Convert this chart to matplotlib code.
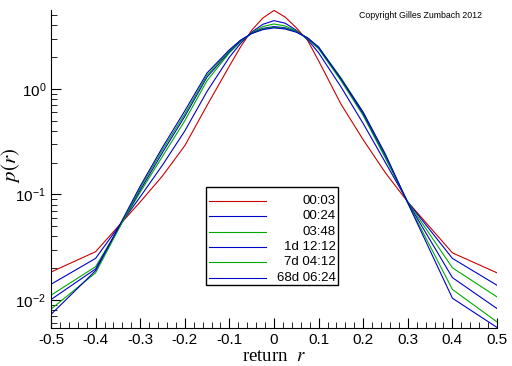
import numpy as np
import matplotlib.pyplot as plt
from matplotlib.ticker import FixedLocator, NullFormatter
from matplotlib.patches import Rectangle

plt.rcParams["mathtext.fontset"] = "stix"

# return grid
r = [-0.5, -0.4, -0.3, -0.25, -0.2, -0.15, -0.1, -0.075, -0.05, -0.025, 0.0,
     0.025, 0.05, 0.075, 0.1, 0.15, 0.2, 0.25, 0.3, 0.4, 0.5]

# estimated densities, one list per time horizon
p_0003 = [0.0184, 0.0287, 0.085, 0.15, 0.29, 0.70, 1.65, 2.5, 3.6, 4.7, 5.55,
          4.8, 3.8, 2.9, 1.85, 0.72, 0.33, 0.16, 0.085, 0.028, 0.0181]
p_0024 = [0.0141, 0.0248, 0.095, 0.19, 0.40, 0.95, 2.0, 2.7, 3.45, 4.1, 4.44,
          4.2, 3.6, 2.95, 2.2, 1.05, 0.47, 0.20, 0.085, 0.0248, 0.0138]
p_0348 = [0.0111, 0.0207, 0.105, 0.23, 0.50, 1.20, 2.2, 2.8, 3.4, 3.9, 4.13,
          3.95, 3.55, 3.0, 2.4, 1.20, 0.56, 0.22, 0.085, 0.0202, 0.0107]
p_1d = [0.0101, 0.0197, 0.110, 0.25, 0.55, 1.30, 2.25, 2.85, 3.38, 3.75, 3.90,
        3.8, 3.5, 3.05, 2.45, 1.25, 0.58, 0.23, 0.084, 0.0163, 0.0083]
p_7d = [0.0082, 0.0181, 0.115, 0.265, 0.58, 1.35, 2.3, 2.88, 3.36, 3.7, 3.85,
        3.75, 3.48, 3.05, 2.48, 1.28, 0.60, 0.235, 0.083, 0.0126, 0.0062]
p_68d = [0.0073, 0.0190, 0.120, 0.28, 0.62, 1.42, 2.35, 2.9, 3.35, 3.65, 3.79,
         3.7, 3.45, 3.05, 2.5, 1.25, 0.60, 0.24, 0.083, 0.0104, 0.0055]

labels = ["00:03", "00:24", "03:48", "1d 12:12", "7d 04:12", "68d 06:24"]
colors = ["#cc0000", "#0000cc", "#00aa00", "#0000cc", "#00aa00", "#0000cc"]
series = [p_0003, p_0024, p_0348, p_1d, p_7d, p_68d]

# axes box in pixels: x 51..497, y 10..328
fig = plt.figure(figsize=(5.12, 3.66), dpi=100)
ax = fig.add_axes([51/512, 38/366, 446/512, 318/366])

def ax_xy(px, py):
    return (px - 51) / 446, (328 - py) / 318

for p, lab, c in zip(series, labels, colors):
    ax.plot(r, p, color=c, lw=0.8, label=lab)

ax.set_yscale("log")
ax.set_xlim(-0.5, 0.5)
ax.set_ylim(0.00543, 5.6)

ax.spines["top"].set_visible(False)
ax.spines["right"].set_visible(False)

ax.set_xticks(np.arange(-0.5, 0.51, 0.1))
ax.set_xticklabels(["-0.5", "-0.4", "-0.3", "-0.2", "-0.1", "0", "0.1", "0.2", "0.3", "0.4", "0.5"])
ax.xaxis.set_minor_locator(FixedLocator(np.arange(-0.5, 0.501, 0.02)))
ax.tick_params(which="both", direction="in", labelsize=11)
ax.tick_params(which="major", length=7)
ax.tick_params(which="minor", length=4)
ax.yaxis.set_minor_formatter(NullFormatter())
for t in ax.get_xticklabels() + ax.get_yticklabels():
    t.set_family("Liberation Sans")

ax.set_ylabel(r"$p(r)$", fontsize=15)
ax.yaxis.set_label_coords(*ax_xy(22, 165))
ax.set_xlabel(r"return  $r$", fontsize=13.5, family="Liberation Serif")
ax.xaxis.set_label_coords(*ax_xy(274, 348))

# legend drawn by hand: lines left, labels right-aligned
x0, y0 = ax_xy(206, 285)
x1, y1 = ax_xy(338, 187)
ax.add_patch(Rectangle((x0, y0), x1 - x0, y1 - y0, transform=ax.transAxes,
                       facecolor="white", edgecolor="black", lw=1.0, zorder=5))
rows = [201, 216, 232, 247, 262, 278]
for yy, lab, c in zip(rows, labels, colors):
    la, ya = ax_xy(209, yy)
    lb, _ = ax_xy(266, yy)
    ax.plot([la, lb], [ya, ya], color=c, lw=0.8, transform=ax.transAxes, zorder=6)
    tx, _ = ax_xy(336, yy)
    ax.text(tx, ya, lab, transform=ax.transAxes, ha="right", va="center",
            fontsize=9.5, family="Liberation Sans", zorder=6)

fig.text(359/512, 1 - 16/366, "Copyright Gilles Zumbach 2012", fontsize=6.3,
         family="Liberation Sans", va="center")

fig.savefig("out.png", dpi=100)
